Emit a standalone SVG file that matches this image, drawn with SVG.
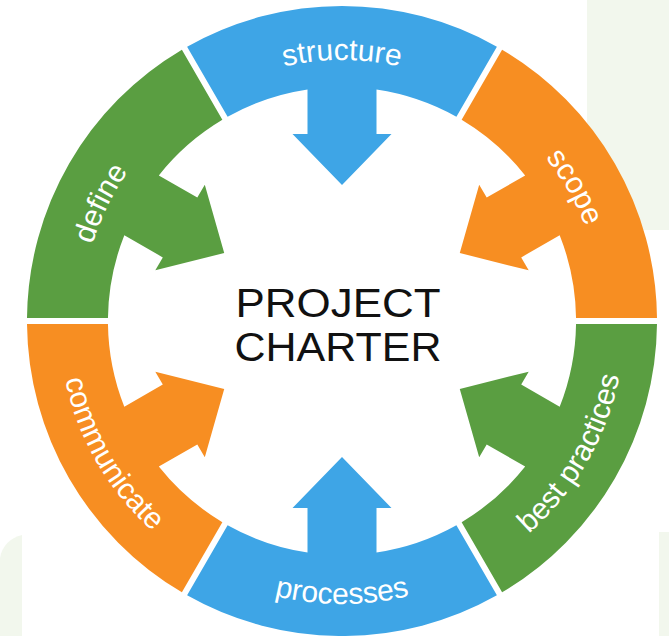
<svg xmlns="http://www.w3.org/2000/svg" width="669" height="636" viewBox="0 0 669 636">
<style>
.blue{fill:#3ea5e6}
.green{fill:#5a9e41}
.orange{fill:#f78e22}
.lbl{font-family:"Liberation Sans",Arial,sans-serif;font-size:30px;fill:#ffffff}
.title{font-family:"Liberation Sans",Arial,sans-serif;font-size:40px;fill:#111111}
.bg{fill:#f2f7ed}
</style>
<defs>
<path id="seg" d="M-154.9,-274.3 A315,315 0 0 1 154.9,-274.3 L114.4,-204.2 A234,234 0 0 0 34.5,-231.44 L34.5,-187 L49.5,-187 L0,-136 L-49.5,-187 L-34.5,-187 L-34.5,-231.44 A234,234 0 0 0 -114.4,-204.2 Z"/>
<path id="p-structure" d="M211.5,94.97 A261,261 0 0 1 472.5,94.97"/>
<path id="p-scope" d="M472.5,94.97 A261,261 0 0 1 603,321"/>
<path id="p-define" d="M81.64,339.21 A261,261 0 0 1 196.05,104.62"/>
<path id="p-best" d="M483.5,566.09 A283,283 0 0 0 625,321"/>
<path id="p-processes" d="M200.5,566.09 A283,283 0 0 0 483.5,566.09"/>
<path id="p-communicate" d="M59,321 A283,283 0 0 0 200.5,566.09"/>
</defs>
<rect width="669" height="636" fill="#ffffff"/>
<g id="background">
<rect class="bg" x="587" y="0" width="82" height="230"/>
<rect class="bg" x="659" y="532" width="10" height="104"/>
<path class="bg" d="M0,636 L0,558 A28,28 0 0 1 22,535 L22,636 Z"/>
</g>
<g id="structure">
<use href="#seg" class="blue" transform="translate(342,321) rotate(0)"/>
<text class="lbl" text-anchor="middle"><textPath href="#p-structure" startOffset="50%">structure</textPath></text>
</g>
<g id="scope">
<use href="#seg" class="orange" transform="translate(342,321) rotate(60)"/>
<text class="lbl" text-anchor="middle"><textPath href="#p-scope" startOffset="50%">scope</textPath></text>
</g>
<g id="best-practices">
<use href="#seg" class="green" transform="translate(342,321) rotate(120)"/>
<text class="lbl" text-anchor="middle"><textPath href="#p-best" startOffset="50%">best practices</textPath></text>
</g>
<g id="processes">
<use href="#seg" class="blue" transform="translate(342,321) rotate(180)"/>
<text class="lbl" text-anchor="middle"><textPath href="#p-processes" startOffset="50%">processes</textPath></text>
</g>
<g id="communicate">
<use href="#seg" class="orange" transform="translate(342,321) rotate(240)"/>
<text class="lbl" text-anchor="middle"><textPath href="#p-communicate" startOffset="50%">communicate</textPath></text>
</g>
<g id="define">
<use href="#seg" class="green" transform="translate(342,321) rotate(300)"/>
<text class="lbl" text-anchor="middle"><textPath href="#p-define" startOffset="50%">define</textPath></text>
</g>
<g id="project-charter">
<text class="title" x="338" y="316.5" text-anchor="middle" textLength="205" lengthAdjust="spacingAndGlyphs">PROJECT</text>
<text class="title" x="338" y="360.5" text-anchor="middle" textLength="207" lengthAdjust="spacingAndGlyphs">CHARTER</text>
</g>
<g id="connectors"></g>
</svg>
